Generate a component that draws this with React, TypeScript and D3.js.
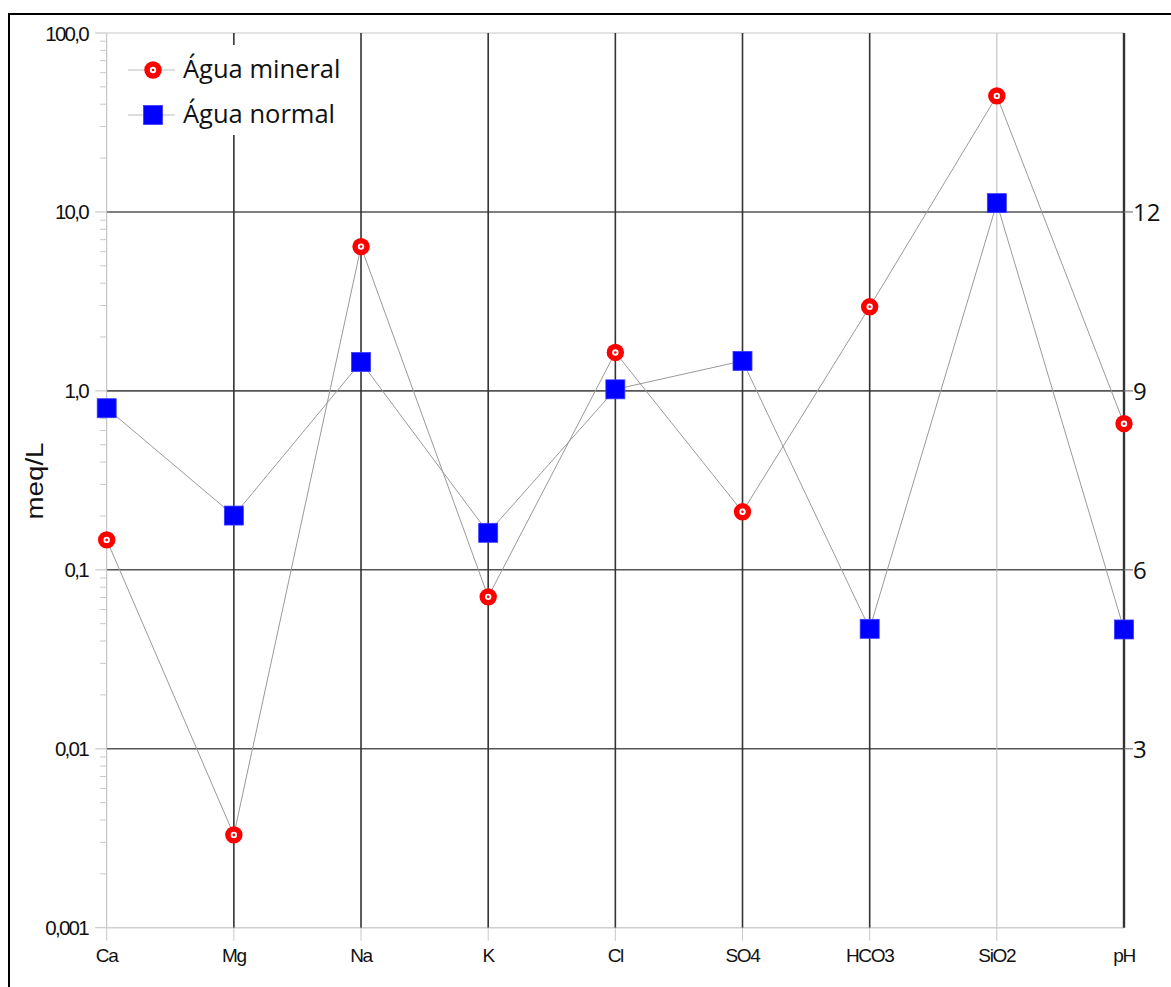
import React from "react";
import * as d3 from "d3";

const categories = ["Ca", "Mg", "Na", "K", "Cl", "SO4", "HCO3", "SiO2", "pH"];
// meq/L for ions, pH (right axis) for last entry
const mineralValues = [0.147, 0.0033, 6.4, 0.0706, 1.64, 0.211, 2.95, 44.5, 8.45];
const normalValues = [0.8, 0.201, 1.45, 0.161, 1.02, 1.47, 0.0468, 11.2, 5.0];
const leftTickValues = [100, 10, 1, 0.1, 0.01, 0.001];
const leftTickLabels = ["100,0", "10,0", "1,0", "0,1", "0,01", "0,001"];
const rightTickValues = [12, 9, 6, 3];
const seriesNames = ["Água mineral", "Água normal"];

const W = 1171;
const H = 987;
const left = 106.7;
const right = 1124;
const top = 33;
const bottom = 927.7;

export default function App() {
  const x = d3.scalePoint<string>().domain(categories).range([left, right]);
  const y = d3.scaleLog().domain([0.001, 100]).range([bottom, top]);
  const yPH = d3.scaleLinear().domain([0, 15]).range([bottom, top]);

  const pt = (v: number, i: number): [number, number] => [
    x(categories[i]) as number,
    i === categories.length - 1 ? yPH(v) : y(v),
  ];
  const line = d3.line<[number, number]>();
  const minPts = mineralValues.map(pt);
  const norPts = normalValues.map(pt);

  const minorTicks: number[] = [];
  for (let k = -3; k < 2; k++) {
    for (let m = 2; m <= 9; m++) minorTicks.push(m * Math.pow(10, k));
  }

  const axisFont = "'Liberation Sans', Arial, sans-serif";
  const calFont = "'Open Sans', 'Noto Sans', sans-serif";

  const Circle = ({ cx, cy }: { cx: number; cy: number }) => (
    <g>
      <circle cx={cx} cy={cy} r={8.7} fill="#ff0000" />
      <circle cx={cx} cy={cy} r={3.2} fill="#ffffff" />
      <circle cx={cx} cy={cy} r={1.3} fill="#ff0000" />
    </g>
  );
  const Square = ({ cx, cy }: { cx: number; cy: number }) => (
    <rect x={cx - 9.5} y={cy - 9.5} width={19} height={19} fill="#0000ff" stroke="#3a3aff" strokeWidth={0.8} />
  );

  return (
    <div style={{ position: "absolute", left: 0, top: 0 }}>
      <svg width={W} height={H} style={{ display: "block", background: "#fff" }}>
        {/* outer frame */}
        <rect x={9} y={14} width={W + 20} height={H + 20} fill="none" stroke="#000" strokeWidth={2} />

        {/* horizontal grid */}
        {leftTickValues.slice(1, 5).map((v) => (
          <line key={"g" + v} x1={left} x2={right} y1={y(v)} y2={y(v)} stroke="#555" strokeWidth={1.6} />
        ))}
        <line x1={left} x2={right} y1={top} y2={top} stroke="#c8c8c8" strokeWidth={1.2} />
        <line x1={left} x2={right} y1={bottom} y2={bottom} stroke="#d0d0d0" strokeWidth={1.6} />

        {/* vertical category lines */}
        {categories.map((c, i) => {
          const xx = x(c) as number;
          const light = i === 0 || c === "SiO2";
          const isPH = i === categories.length - 1;
          return (
            <g key={"v" + c}>
              <line
                x1={xx}
                x2={xx}
                y1={top}
                y2={bottom}
                stroke={light ? "#bbbbbb" : "#333"}
                strokeWidth={isPH ? 2.4 : light ? 1 : 1.6}
              />
              {!isPH && <line x1={xx} x2={xx} y1={bottom} y2={bottom + 13} stroke="#c8c8c8" strokeWidth={1} />}
            </g>
          );
        })}

        {/* left axis ticks */}
        {minorTicks.map((v) => (
          <line key={"m" + v} x1={left - 6.5} x2={left} y1={y(v)} y2={y(v)} stroke="#c8c8c8" strokeWidth={1} />
        ))}
        {leftTickValues.map((v, i) => (
          <g key={"t" + v}>
            <line x1={left - 11.5} x2={left} y1={y(v)} y2={y(v)} stroke="#c8c8c8" strokeWidth={1.2} />
            <text
              x={88}
              y={y(v) + 7.5}
              textAnchor="end"
              fontFamily={axisFont}
              fontSize={20.5}
              letterSpacing={-1.7}
              fill="#111"
            >
              {leftTickLabels[i]}
            </text>
          </g>
        ))}

        {/* right axis (pH) */}
        {rightTickValues.map((v) => (
          <g key={"r" + v}>
            <line x1={right} x2={right + 9} y1={yPH(v)} y2={yPH(v)} stroke="#777" strokeWidth={1.2} />
            <text x={1133} y={yPH(v) + 9} fontFamily={calFont} fontSize={24} fill="#111">
              {v}
            </text>
          </g>
        ))}

        {/* y title */}
        <text
          transform={`translate(43,481) rotate(-90)`}
          textAnchor="middle"
          fontFamily={axisFont}
          fontSize={23}
          textLength={77}
          lengthAdjust="spacingAndGlyphs"
          fill="#111"
        >
          meq/L
        </text>

        {/* bottom labels */}
        {categories.map((c) => (
          <text
            key={"b" + c}
            x={x(c) as number}
            y={962}
            textAnchor="middle"
            fontFamily={axisFont}
            fontSize={19}
            letterSpacing={-1.3}
            fill="#111"
          >
            {c}
          </text>
        ))}

        {/* legend background */}
        <rect x={120} y={45} width={230} height={90} fill="#fff" />

        {/* series lines */}
        <path d={line(norPts) || ""} fill="none" stroke="#9a9a9a" strokeWidth={1} />
        <path d={line(minPts) || ""} fill="none" stroke="#9a9a9a" strokeWidth={1} />

        {/* markers */}
        {norPts.map((p, i) => (
          <Square key={"n" + i} cx={p[0]} cy={p[1]} />
        ))}
        {minPts.map((p, i) => (
          <Circle key={"c" + i} cx={p[0]} cy={p[1]} />
        ))}

        {/* legend */}
        <line x1={128} x2={175} y1={70} y2={70} stroke="#bbb" strokeWidth={1} />
        <Circle cx={153} cy={70} />
        <text x={183} y={78} fontFamily={calFont} fontSize={25.5} fill="#111">
          {seriesNames[0]}
        </text>
        <line x1={128} x2={175} y1={115} y2={115} stroke="#bbb" strokeWidth={1} />
        <Square cx={153} cy={115} />
        <text x={183} y={123} fontFamily={calFont} fontSize={25.5} fill="#111">
          {seriesNames[1]}
        </text>
      </svg>
    </div>
  );
}
